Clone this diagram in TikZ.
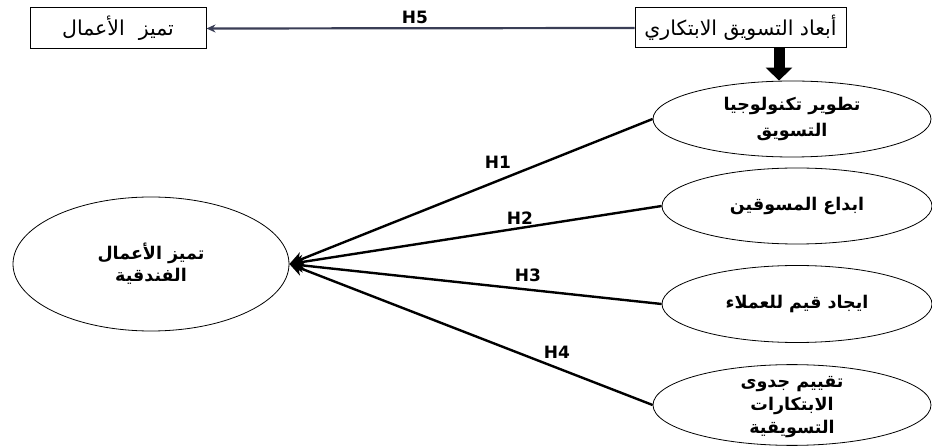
\documentclass[tikz,border=0pt]{standalone}
\usepackage{fontspec}
\usepackage{tikz}
\usetikzlibrary{arrows.meta,positioning,shapes.geometric,calc}
\TeXXeTstate=1
\newfontfamily\arabicfont[Script=Arabic]{DejaVu Sans}
\newfontfamily\labelfont{DejaVu Sans}
\definecolor{slate}{RGB}{58,62,86}

\begin{document}
\begin{tikzpicture}[x=1pt, y=-1pt, line width=2.4pt, box node/.style={rectangle,draw,line width=1pt,minimum width=176pt,minimum height=41pt,inner sep=2pt,font=\arabicfont\fontsize{20.5}{24}\selectfont}, main node/.style={ellipse,draw,line width=0.8pt,minimum width=272pt,minimum height=76pt,inner sep=0pt,align=center,font=\arabicfont\bfseries\fontsize{17.5}{26}\selectfont}, hyp/.style={font=\labelfont\bfseries\fontsize{17}{19}\selectfont}]%
\useasboundingbox (0,0) rectangle (932,446);
% boxes
\node[box node] (b1) at (118,28.5) {\beginR تميز\hspace{14pt}الأعمال\endR};
\node[box node,minimum width=211pt,minimum height=40pt] (b2) at (740.5,28) {\beginR أبعاد التسويق الابتكاري\endR};
% ellipses
\node[main node,minimum width=276pt,minimum height=134pt,font=\arabicfont\bfseries\fontsize{17.5}{22}\selectfont] (e0) at (151,264) {\beginR تميز الأعمال\endR\\\beginR الفندقية\endR};
\node[main node,minimum width=278pt] (e1) at (792,119) {\beginR تطوير تكنولوجيا\endR\\\beginR التسويق\endR};
\node[main node,minimum width=270pt] (e2) at (797,206) {\beginR ابداع المسوقين\endR};
\node[main node,minimum width=270pt,minimum height=77pt] (e3) at (797,304) {\beginR ايجاد قيم للعملاء\endR};
\node[main node,minimum width=278pt,text depth=0pt,font=\arabicfont\bfseries\fontsize{17.5}{23}\selectfont] (e4) at (792,405) {\beginR تقييم جدوى\endR\\\beginR الابتكارات\endR\\\beginR التسويقية\endR};
% labels
\node[hyp] (h5) at (415,17) {H5};
\node[hyp] (h1) at (498,162) {H1};
\node[hyp] (h2) at (520,218) {H2};
\node[hyp] (h3) at (528,275) {H3};
\node[hyp] (h4) at (557,352) {H4};
% arrows
\draw[slate,line width=2.2pt,-{Stealth[length=9pt,width=8pt]}] (b2.west) -- (b1.east);
\coordinate (a1) at ($(b2.south)+(38.5,0)$);
\draw[line width=11pt,-{Triangle[length=13pt,width=26pt]}] (a1) -- (a1 |- e1.north);
\foreach \e in {e1,e2,e3,e4}
  \draw[-{Stealth[length=14pt,width=14pt]}] (\e.west) -- (e0.east);
\end{tikzpicture}
\end{document}
